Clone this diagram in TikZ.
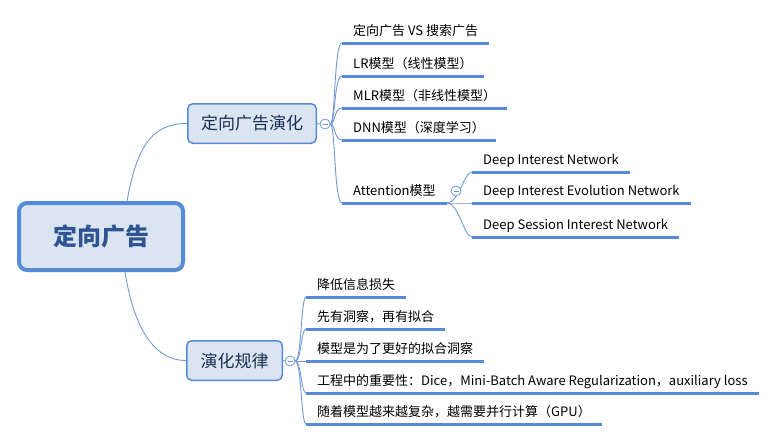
\documentclass[tikz,border=0pt]{standalone}
\usepackage{fontspec}
\setmainfont{Noto Sans CJK SC}
\usetikzlibrary{backgrounds}
\definecolor{mapblue}{RGB}{84,139,212}
\definecolor{linkblue}{RGB}{112,152,218}
\definecolor{boxfill}{RGB}{219,229,242}
\definecolor{rootink}{RGB}{46,84,145}
\definecolor{topicink}{RGB}{27,45,80}
\newcommand{\foldminus}{\textcolor{linkblue}{\rule{5pt}{0.7pt}}}
\tikzset{
  rootbox/.style={draw=mapblue, fill=boxfill, line width=4pt, rounded corners=8pt,
    minimum width=164pt, minimum height=67pt, text=rootink,
    font=\fontsize{24}{28}\selectfont\bfseries},
  topic/.style={draw=mapblue, fill=boxfill, line width=1.5pt, rounded corners=5pt,
    minimum height=39.5pt, text=topicink, font=\fontsize{17}{20}\selectfont},
  leaf/.style={anchor=south west, inner xsep=11pt, inner ysep=4pt,
    text height=10pt, text depth=3pt, font=\fontsize{13}{15}\selectfont},
  uline/.style={draw=mapblue, line width=3pt},
  link/.style={draw=linkblue, line width=0.9pt},
  fold/.style={circle, draw=linkblue, fill=white, line width=0.8pt,
    minimum size=10pt, inner sep=0pt}
}
\begin{document}
\begin{tikzpicture}[x=1pt,y=-1pt]
\useasboundingbox (0,0) rectangle (782,442);
% central and main topics
\node[rootbox] (ad) at (101,236.5) {定向广告};
\node[topic, minimum width=128.5pt] (evo) at (252,123.5) {定向广告演化};
\node[topic, minimum width=95.5pt] (law) at (234.5,360.5) {演化规律};
\node[fold] (fevo) at (325,124) {\foldminus};
\node[fold] (flaw) at (290,361) {\foldminus};
% models
\node[leaf] (m1) at (342,43) {定向广告 VS 搜索广告};
\node[leaf] (m2) at (342,76) {LR模型（线性模型）};
\node[leaf] (m3) at (342,108) {MLR模型（非线性模型）};
\node[leaf] (m4) at (342,140) {DNN模型（深度学习）};
\node[leaf] (m5) at (342,203) {Attention模型};
\node[fold] (fatt) at (456,191) {\foldminus};
\node[leaf] (d1) at (472,172) {Deep Interest Network};
\node[leaf] (d2) at (472,203) {Deep Interest Evolution Network};
\node[leaf] (d3) at (472,237) {Deep Session Interest Network};
% rules
\node[leaf] (r1) at (306,297) {降低信息损失};
\node[leaf] (r2) at (306,329) {先有洞察，再有拟合};
\node[leaf] (r3) at (306,361) {模型是为了更好的拟合洞察};
\node[leaf] (r4) at (306,393) {工程中的重要性：Dice，Mini-Batch Aware Regularization，auxiliary loss};
\node[leaf] (r5) at (306,424) {随着模型越来越复杂，越需要并行计算（GPU）};
\foreach \n in {m1,m2,m3,m4,m5,d1,d2,d3,r1,r2,r3,r4,r5}
  \draw[uline] (\n.south west) -- (\n.south east);
\begin{pgfonlayer}{background}
\draw[link] ([xshift=26pt]ad.north) .. controls +(10,-55) and +(-35,0) .. (evo.west);
\draw[link] ([xshift=24pt]ad.south) .. controls +(8,50) and +(-35,0) .. (law.west);
\draw[link] (evo.east) -- (fevo.west);
\draw[link] (law.east) -- (flaw.west);
\foreach \n in {m1,m2,m3,m4,m5}
  \draw[link] (fevo.east) .. controls +(5,0) and +(-8,0) .. (\n.south west);
\foreach \n in {d1,d2,d3}
  \draw[link] (m5.south east) .. controls +(12,0) and +(-8,0) .. (\n.south west);
\foreach \n in {r1,r2,r3,r4,r5}
  \draw[link] (flaw.east) .. controls +(6,0) and +(-5,0) .. (\n.south west);
\end{pgfonlayer}
\end{tikzpicture}
\end{document}
